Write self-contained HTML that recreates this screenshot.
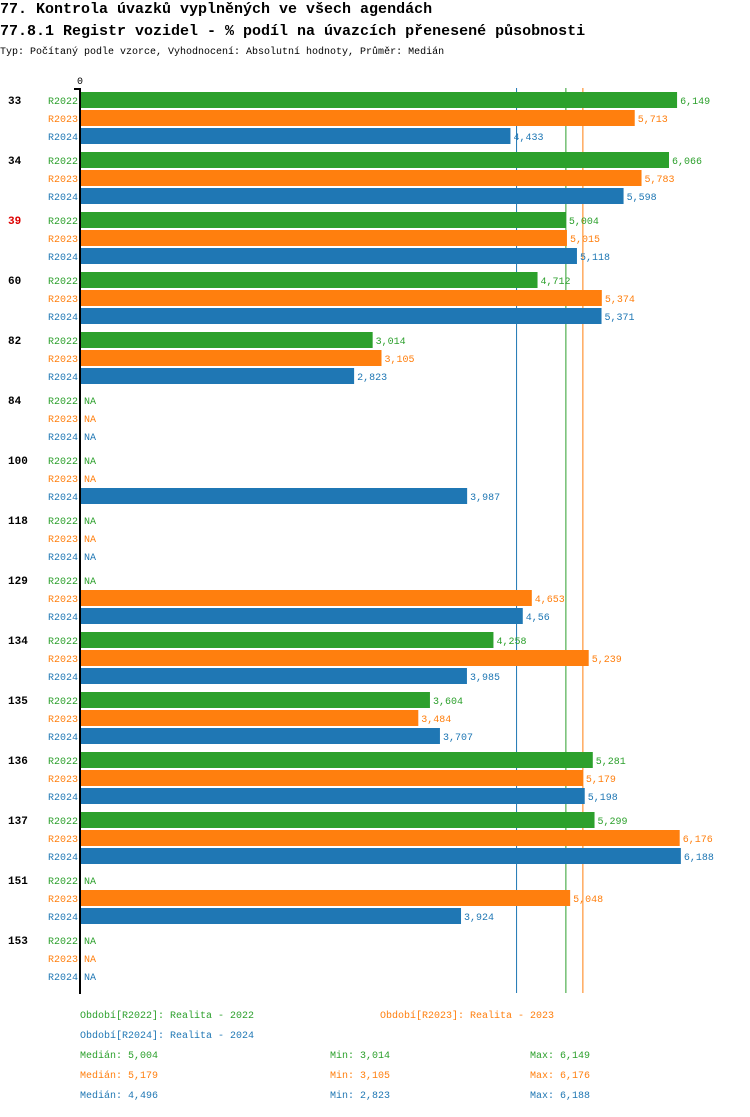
<!DOCTYPE html>
<html><head><meta charset="utf-8"><style>
body{margin:0;background:#fff;width:750px;height:1112px;overflow:hidden}
text{font-family:"Liberation Mono","DejaVu Sans Mono",monospace}
</style></head><body>
<svg width="750" height="1112" xmlns="http://www.w3.org/2000/svg">
<text x="0" y="13" font-size="15" font-weight="bold">77. Kontrola úvazků vyplněných ve všech agendách</text>
<text x="0" y="35" font-size="15" font-weight="bold">77.8.1 Registr vozidel - % podíl na úvazcích přenesené působnosti</text>
<text x="0" y="54" font-size="10">Typ: Počítaný podle vzorce, Vyhodnocení: Absolutní hodnoty, Průměr: Medián</text>
<g id="lines"></g>
<g id="plot"></g>
<g id="legend"></g>
</svg>
<script>
const categories=["33","34","39","60","82","84","100","118","129","134","135","136","137","151","153"];
const r2022=[6.149,6.066,5.004,4.712,3.014,null,null,null,null,4.258,3.604,5.281,5.299,null,null];
const r2023=[5.713,5.783,5.015,5.374,3.105,null,null,null,4.653,5.239,3.484,5.179,6.176,5.048,null];
const r2024=[4.433,5.598,5.118,5.371,2.823,null,3.987,null,4.56,3.985,3.707,5.198,6.188,3.924,null];
const seriesNames=["R2022","R2023","R2024"];
const colors=["#2ca02c","#ff7f0e","#1f77b4"];
const medians=[5.004,5.179,4.496];
const mins=[3.014,3.105,2.823];
const maxs=[6.149,6.176,6.188];
const highlighted=["39"];
const NS="http://www.w3.org/2000/svg";
const x0=80,scale=97.1;
const xs=v=>x0+v*scale;
const g=document.getElementById('plot');
const lg0=document.getElementById('lines');
function mk(tag,attrs,parent){const e=document.createElementNS(NS,tag);for(const k in attrs)e.setAttribute(k,attrs[k]);parent.appendChild(e);return e;}
const fmt=v=>String(v).replace('.',',');
const series=[r2022,r2023,r2024];
medians.forEach((m,j)=>{
  const ln=mk('line',{x1:xs(m),x2:xs(m),y1:88,y2:993,stroke:colors[j],'stroke-width':1},lg0);
  
  
});
categories.forEach((c,i)=>{
  const gy=92+i*60;
  const t=mk('text',{x:8,y:gy+12,'font-size':11,'font-weight':'bold',fill:highlighted.includes(c)?'#dd0000':'#000'},g);
  t.textContent=c;
  
  
  series.forEach((s,j)=>{
    const y=gy+j*18;
    const l=mk('text',{x:78,y:y+12,'font-size':10,fill:colors[j],'text-anchor':'end'},g);
    l.textContent=seriesNames[j];
    
    
    const v=s[i];
    if(v==null){
      const na=mk('text',{x:84,y:y+12,'font-size':10,fill:colors[j]},g);
      na.textContent='NA';
      
      
    }else{
      const b=mk('rect',{x:x0,y:y,width:xs(v)-x0,height:16,fill:colors[j]},g);
      
      
      const vl=mk('text',{x:xs(v)+3,y:y+12,'font-size':10,fill:colors[j]},g);
      vl.textContent=fmt(v);
      
      
    }
  });
});
const ax=mk('line',{x1:80,x2:80,y1:88,y2:994,stroke:'#000','stroke-width':2},g);


const tk=mk('line',{x1:74,x2:80,y1:89,y2:89,stroke:'#000','stroke-width':2},g);


const z=mk('text',{x:80,y:84,'font-size':10,'text-anchor':'middle'},g);
z.textContent='0';


const lg=document.getElementById('legend');
const legItems=[[80,1018,0,'Období[R2022]: Realita - 2022'],[380,1018,1,'Období[R2023]: Realita - 2023'],[80,1038,2,'Období[R2024]: Realita - 2024']];
legItems.forEach(([x,y,j,s])=>{
  const t=mk('text',{x:x,y:y,'font-size':10,fill:colors[j]},lg);
  t.textContent=s;
  
  
});
[0,1,2].forEach(j=>{
  const y=1058+j*20;
  [[80,'Medián: '+fmt(medians[j])],[330,'Min: '+fmt(mins[j])],[530,'Max: '+fmt(maxs[j])]].forEach(([x,s])=>{
    const t=mk('text',{x:x,y:y,'font-size':10,fill:colors[j]},lg);
    t.textContent=s;
    
    
  });
});
</script>
</body></html>
